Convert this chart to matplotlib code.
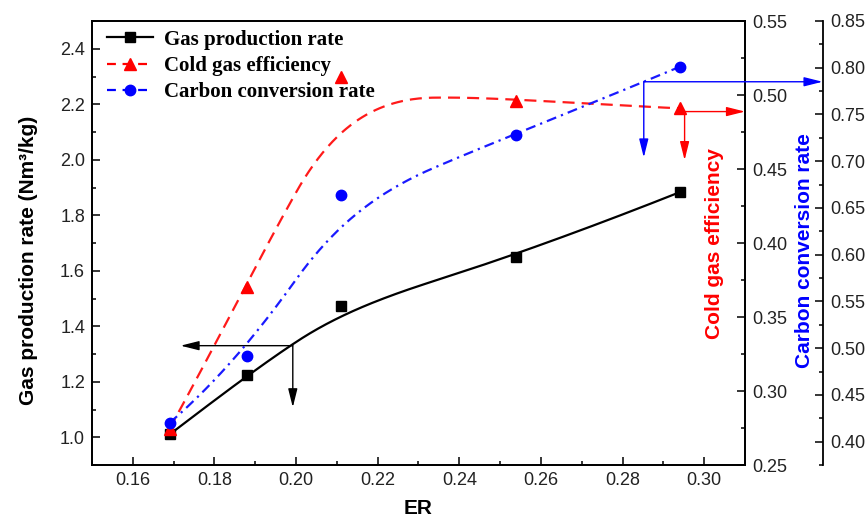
"""ER vs gas production rate, cold gas efficiency and carbon conversion rate."""

import numpy as np
import matplotlib
matplotlib.use("Agg")
import matplotlib.pyplot as plt
from matplotlib.lines import Line2D
from matplotlib.ticker import MultipleLocator

plt.rcParams["font.family"] = ["Liberation Sans", "DejaVu Sans"]

er = [0.169, 0.188, 0.211, 0.254, 0.294]
gas_rate = [1.01, 1.223, 1.474, 1.650, 1.883]
cold_eff = [0.2745, 0.370, 0.512, 0.496, 0.491]
carbon_conv = [0.420, 0.492, 0.6635, 0.728, 0.801]

LABEL_SIZE = 15
TICK_SIZE = 13
TICK_COLOR = "#222222"


def bspline(xs, ys, k, n=300):
    """Clamped B-spline using the data points as control points."""
    P = np.column_stack([xs, ys])
    m = len(P)
    t = np.concatenate([np.zeros(k), np.linspace(0, 1, m - k + 1), np.ones(k)])
    u = np.linspace(0, 1 - 1e-9, n)

    def basis(i, p):
        if p == 0:
            return ((t[i] <= u) & (u < t[i + 1])).astype(float)
        a = 0.0
        b = 0.0
        if t[i + p] != t[i]:
            a = (u - t[i]) / (t[i + p] - t[i]) * basis(i, p - 1)
        if t[i + p + 1] != t[i + 1]:
            b = (t[i + p + 1] - u) / (t[i + p + 1] - t[i + 1]) * basis(i + 1, p - 1)
        return a + b

    B = np.array([basis(i, k) for i in range(m)])
    return B.T @ P


def smooth(xs, ys, w=0.5):
    # mix of quadratic and cubic B-spline, close to the Origin look
    c = w * bspline(xs, ys, 2) + (1 - w) * bspline(xs, ys, 3)
    return c[:, 0], c[:, 1]


fig = plt.figure(figsize=(8.68, 5.18), dpi=100)
ax = fig.add_axes([92 / 868, 1 - 465 / 518, (745 - 92) / 868, (465 - 21) / 518])
ax2 = ax.twinx()
ax3 = ax.twinx()
ax3.spines["right"].set_position(("outward", 78 * 72 / 100))
for s in ["top", "left", "bottom"]:
    ax3.spines[s].set_visible(False)

# curves
bx, by = smooth(er, gas_rate)
ax.plot(bx, by, color="black", lw=1.6, zorder=2)
ax.plot(er, gas_rate, ls="none", marker="s", ms=7, color="black", zorder=3)

rx, ry = smooth(er, cold_eff)
ax2.plot(rx, ry, color="#ff1a1a", lw=1.6, ls=(0, (5.4, 3.2)), zorder=2)
ax2.plot(er, cold_eff, ls="none", marker="^", ms=8.5, color="#ff0000", zorder=3)

cx, cy = smooth(er, carbon_conv)
ax3.plot(cx, cy, color="#1a1aff", lw=1.6, ls=(0, (4.5, 2.3, 1.0, 2.3)), zorder=2)
ax3.plot(er, carbon_conv, ls="none", marker="o", ms=7.5, color="#0000ff", zorder=3)

# limits and ticks
ax.set_xlim(0.15, 0.31)
ax.set_ylim(0.9, 2.5)
ax2.set_ylim(0.25, 0.55)
ax3.set_ylim(0.375, 0.85)

ax.xaxis.set_minor_locator(MultipleLocator(0.01))
ax.yaxis.set_minor_locator(MultipleLocator(0.1))
ax2.yaxis.set_minor_locator(MultipleLocator(0.025))
ax3.yaxis.set_minor_locator(MultipleLocator(0.025))

xt = np.arange(0.16, 0.301, 0.02)
ax.set_xticks(xt)
ax.set_xticklabels([f"{v:.2f}" for v in xt])
yt = np.arange(1.0, 2.41, 0.2)
ax.set_yticks(yt)
ax.set_yticklabels([f"{v:.1f}" for v in yt])
y2t = np.arange(0.25, 0.551, 0.05)
ax2.set_yticks(y2t)
ax2.set_yticklabels([f"{v:.2f}" for v in y2t])
y3t = np.arange(0.40, 0.851, 0.05)
ax3.set_yticks(y3t)
ax3.set_yticklabels([f"{v:.2f}" for v in y3t])

for a in (ax, ax2, ax3):
    a.tick_params(which="major", direction="in", length=8 * 0.72, width=1.1,
                  labelsize=TICK_SIZE, labelcolor=TICK_COLOR, pad=5)
    a.tick_params(which="minor", direction="in", length=4 * 0.72, width=1.1)
    for sp in a.spines.values():
        sp.set_linewidth(1.3)
ax.tick_params(axis="y", which="both", right=False)
ax.tick_params(axis="x", which="both", top=False)

# labels
ax.set_xlabel("ER", fontsize=LABEL_SIZE, fontweight="bold")
ax.xaxis.set_label_coords(0.5, -0.077)
ax.set_ylabel("Gas production rate (Nm³/kg)", fontsize=LABEL_SIZE, fontweight="bold")
ax.yaxis.set_label_coords(-0.083, 0.46)
ax2.set_ylabel("Cold gas efficiency", fontsize=LABEL_SIZE, fontweight="bold", color="#ff0000")
ax2.yaxis.set_label_coords(0.938, 0.498)
ax3.set_ylabel("Carbon conversion rate", fontsize=LABEL_SIZE, fontweight="bold", color="#0000ff")
ax3.yaxis.set_label_coords(1.076, 0.484)

# axis-pointing arrows
head = dict(arrowstyle="-|>,head_length=0.8,head_width=0.2", mutation_scale=14, lw=1.0)
ax.annotate("", xy=(0.1717, 1.33), xytext=(0.1992, 1.33),
            arrowprops=dict(color="black", shrinkA=0, shrinkB=0, **head))
ax.annotate("", xy=(0.1992, 1.108), xytext=(0.1992, 1.33),
            arrowprops=dict(color="black", shrinkA=0, shrinkB=0, **head))

ax2.annotate("", xy=(0.31, 0.4888), xytext=(0.2952, 0.4888),
             arrowprops=dict(color="#ff0000", shrinkA=0, shrinkB=0, **head),
             annotation_clip=False)
ax2.annotate("", xy=(0.2952, 0.456), xytext=(0.2952, 0.4888),
             arrowprops=dict(color="#ff0000", shrinkA=0, shrinkB=0, **head))

ax3.annotate("", xy=(0.329, 0.785), xytext=(0.2852, 0.785),
             arrowprops=dict(color="#0000ff", shrinkA=0, shrinkB=0, **head),
             annotation_clip=False)
ax3.annotate("", xy=(0.2852, 0.704), xytext=(0.2852, 0.785),
             arrowprops=dict(color="#0000ff", shrinkA=0, shrinkB=0, **head))

# legend
handles = [
    Line2D([0], [0], color="black", lw=1.6, marker="s", ms=7, label="Gas production rate"),
    Line2D([0], [0], color="#ff0000", lw=1.6, ls=(0, (4, 3)), marker="^", ms=8.5,
           label="Cold gas efficiency"),
    Line2D([0], [0], color="#0000ff", lw=1.6, ls=(0, (4, 3)), marker="o", ms=7.5,
           label="Carbon conversion rate"),
]
ax3.legend(handles=handles, loc="upper left", bbox_to_anchor=(0.017, 0.99),
           frameon=False, prop={"family": "Liberation Serif", "weight": "bold", "size": 15},
           handlelength=2.2, handletextpad=0.5, labelspacing=0.3, borderaxespad=0,
           borderpad=0.2)

fig.savefig("out.png", dpi=100)
